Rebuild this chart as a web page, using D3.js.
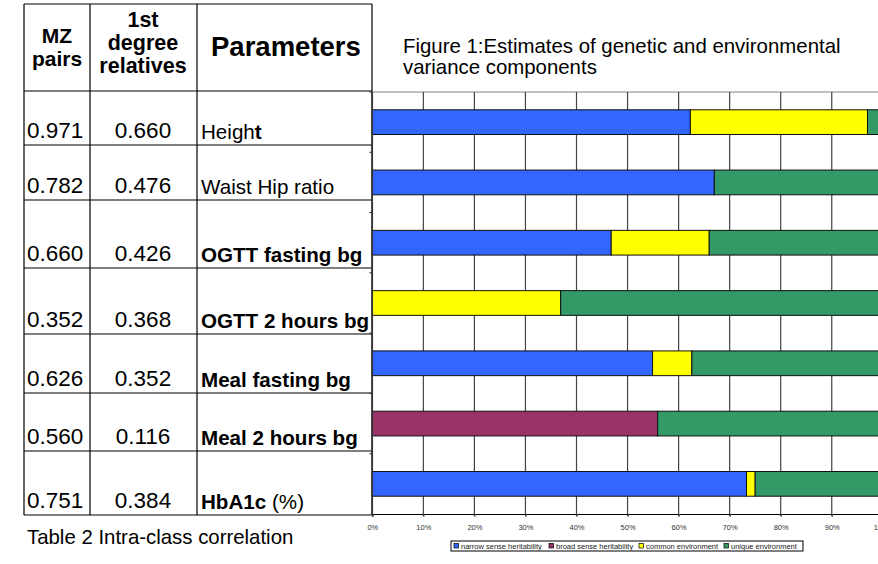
<!DOCTYPE html>
<html>
<head>
<meta charset="utf-8">
<script src="https://cdn.jsdelivr.net/npm/d3@7"></script>
<style>
  html, body { margin: 0; padding: 0; background: #fff; overflow: hidden; }
  svg { display: block; font-family: Arial, "Liberation Sans", sans-serif; }
</style>
</head>
<body>
<svg id="chart" width="878" height="564"></svg>
<script>
// Table 2 values
const params = ["Height", "Waist Hip ratio", "OGTT fasting bg", "OGTT 2 hours bg",
                "Meal fasting bg", "Meal 2 hours bg", "HbA1c"];
const mzPairs = ["0.971", "0.782", "0.660", "0.352", "0.626", "0.560", "0.751"];
const firstDegree = ["0.660", "0.476", "0.426", "0.368", "0.352", "0.116", "0.384"];
// label pieces: [text, bold]
const paramLabels = [
  [["Heigh", false], ["t", true]],
  [["Waist Hip ratio", false]],
  [["OGTT fasting bg", true]],
  [["OGTT 2 hours bg", true]],
  [["Meal fasting bg", true]],
  [["Meal 2 hours bg", true]],
  [["HbA1c", true], [" (%)", false]]
];

// Figure 1 variance components (% of total)
const components = ["narrow sense heritability", "broad sense heritability",
                    "common environment", "unique environment"];
const narrow = [62.3, 67.0, 46.8, 0, 54.9, 0, 73.3];
const broad  = [0, 0, 0, 0, 0, 55.9, 0];
const common = [34.7, 0, 19.2, 36.9, 7.7, 0, 1.7];
const unique = [3.0, 33.0, 34.0, 63.1, 37.4, 44.1, 25.0];
const xTicks = [0, 10, 20, 30, 40, 50, 60, 70, 80, 90, 100];

const colors = ["#3366FF", "#993366", "#FFFF00", "#339966"];

const svg = d3.select("#chart");

// ---------- Table ----------
const colX = [24, 90, 197, 372];
const rowY = [4, 91, 145, 200, 268, 334, 393, 451, 515];
const table = svg.append("g");

rowY.forEach(y => {
  table.append("line")
    .attr("x1", colX[0]).attr("x2", colX[3])
    .attr("y1", y).attr("y2", y)
    .attr("stroke", "#000").attr("stroke-width", 1.2);
});
colX.forEach(x => {
  table.append("line")
    .attr("x1", x).attr("x2", x)
    .attr("y1", rowY[0]).attr("y2", rowY[rowY.length - 1])
    .attr("stroke", "#000").attr("stroke-width", 1.2);
});

// header
const head = table.append("g").attr("font-weight", "bold").attr("fill", "#000");
head.append("text").attr("x", 57).attr("y", 43).attr("text-anchor", "middle")
  .attr("font-size", 21).text("MZ");
head.append("text").attr("x", 57).attr("y", 66).attr("text-anchor", "middle")
  .attr("font-size", 21).text("pairs");
["1st", "degree", "relatives"].forEach((t, i) => {
  head.append("text").attr("x", 143).attr("y", 27 + i * 23).attr("text-anchor", "middle")
    .attr("font-size", 21.5).text(t);
});
head.append("text").attr("x", 211).attr("y", 56)
  .attr("font-size", 27.5).text("Parameters");

// rows
params.forEach((p, i) => {
  const base = rowY[i + 2] - 7;
  table.append("text").attr("x", 27).attr("y", base)
    .attr("font-size", 22.5).text(mzPairs[i]);
  table.append("text").attr("x", 143).attr("y", base).attr("text-anchor", "middle")
    .attr("font-size", 22.5).text(firstDegree[i]);
  const t = table.append("text").attr("x", 201).attr("y", base + 1).attr("font-size", 20.6);
  paramLabels[i].forEach(([s, b]) => {
    t.append("tspan").attr("font-weight", b ? "bold" : "normal").text(s);
  });
});

svg.append("text").attr("x", 27).attr("y", 544)
  .attr("font-size", 20.4).text("Table 2 Intra-class correlation");

// ---------- Figure ----------
svg.append("text").attr("x", 403).attr("y", 53).attr("font-size", 20.4)
  .text("Figure 1:Estimates of genetic and environmental");
svg.append("text").attr("x", 403).attr("y", 74).attr("font-size", 20.4)
  .text("variance components");

const x = d3.scaleLinear().domain([0, 100]).range([372.3, 882.8]);
const y = d3.scaleBand().domain(params).range([92, 514])
  .paddingInner(0.59).paddingOuter(0.295);

const rows = params.map((p, i) => ({
  param: p,
  [components[0]]: narrow[i],
  [components[1]]: broad[i],
  [components[2]]: common[i],
  [components[3]]: unique[i]
}));
const stack = d3.stack().keys(components)(rows);

const plot = svg.append("g");

// top border of plot area
plot.append("line")
  .attr("x1", x(0)).attr("x2", x(100)).attr("y1", 92).attr("y2", 92)
  .attr("stroke", "#808080").attr("stroke-width", 1);

// vertical gridlines
plot.append("g").selectAll("line")
  .data(xTicks.slice(1))
  .join("line")
  .attr("x1", d => x(d)).attr("x2", d => x(d))
  .attr("y1", 92).attr("y2", 516)
  .attr("stroke", "#444").attr("stroke-width", 1.2);

// bars
plot.append("g").selectAll("g")
  .data(stack)
  .join("g")
  .attr("fill", (d, i) => colors[i])
  .selectAll("rect")
  .data(d => d.filter(s => s[1] - s[0] > 0))
  .join("rect")
  .attr("x", d => x(d[0]))
  .attr("width", d => x(d[1]) - x(d[0]))
  .attr("y", d => y(d.data.param))
  .attr("height", y.bandwidth())
  .attr("stroke", "#111").attr("stroke-width", 1);

// category axis (left) with tiny ticks at band boundaries
const catAxis = plot.append("g");
catAxis.append("line")
  .attr("x1", x(0)).attr("x2", x(0)).attr("y1", 92).attr("y2", 515)
  .attr("stroke", "#333").attr("stroke-width", 1.5);
catAxis.selectAll(".ctick")
  .data(params)
  .join("line")
  .attr("class", "ctick")
  .attr("x1", x(0) - 3).attr("x2", x(0))
  .attr("y1", d => y(d) - y.step() * y.paddingInner() / 2)
  .attr("y2", d => y(d) - y.step() * y.paddingInner() / 2)
  .attr("stroke", "#333").attr("stroke-width", 1);

// value axis (bottom)
const xAxis = d3.axisBottom(x)
  .tickValues(xTicks)
  .tickFormat(d => d + "%")
  .tickSize(3)
  .tickPadding(8);
const gx = plot.append("g")
  .attr("transform", "translate(0,514)")
  .call(xAxis);
gx.select(".domain").attr("stroke", "#000").attr("stroke-width", 1.2);
gx.selectAll(".tick line").attr("stroke", "#444");
gx.selectAll(".tick text")
  .attr("font-size", 7.5)
  .attr("fill", "#333")
  .attr("font-family", "Arial, 'Liberation Sans', sans-serif");

// legend
const legend = svg.append("g").attr("transform", "translate(451,541)");
legend.append("rect")
  .attr("width", 352).attr("height", 10)
  .attr("fill", "#fff").attr("stroke", "#000").attr("stroke-width", 1);
const legendX = [3, 98, 188, 273];
components.forEach((c, i) => {
  const item = legend.append("g").attr("transform", `translate(${legendX[i]},2.5)`);
  item.append("rect")
    .attr("width", 4.5).attr("height", 4.5)
    .attr("fill", colors[i]).attr("stroke", "#000").attr("stroke-width", 0.7);
  item.append("text")
    .attr("x", 7).attr("y", 5)
    .attr("font-size", 7.5).attr("fill", "#222")
    .text(c);
});
</script>
</body>
</html>
